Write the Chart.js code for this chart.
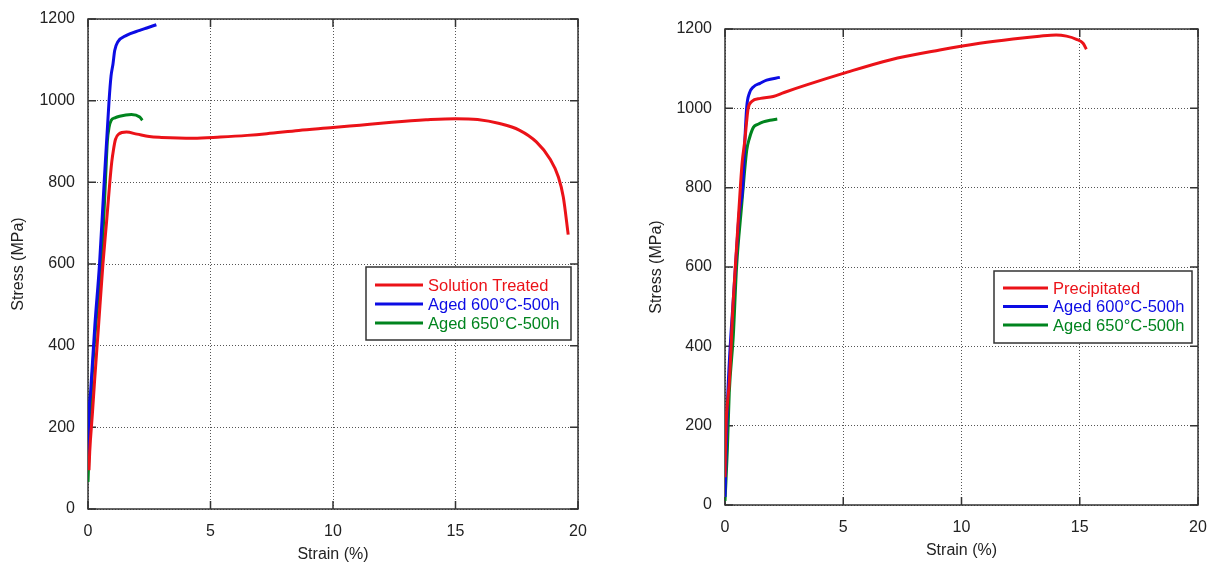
<!DOCTYPE html>
<html>
<head>
<meta charset="utf-8">
<script src="https://cdn.jsdelivr.net/npm/chart.js@4.4.1/dist/chart.umd.min.js"></script>
<style>
body { margin: 0; background: #fff; overflow: hidden; }
#wrap { position: relative; width: 1212px; height: 562px; }
canvas { position: absolute; top: 0; }
#left { left: 0; }
#right { left: 606px; }
</style>
</head>
<body>
<div id="wrap">
<canvas id="left" width="606" height="562"></canvas>
<canvas id="right" width="606" height="562"></canvas>
</div>
<script>
// values: strain in %, stress in MPa

// left panel
var stStrain = [0.04, 0.07, 0.18, 0.27, 0.42, 0.61, 0.76, 0.89, 0.97, 1.04, 1.12, 1.25, 1.57, 2.0, 2.5, 3.0, 4.3, 5.4, 6.5, 7.3, 8.6, 10.0, 11.1, 12.4, 13.8, 15.0, 15.9, 16.8, 17.6, 18.3, 18.85, 19.2, 19.4, 19.6];
var stStress = [95, 140, 234, 315, 440, 600, 705, 800, 850, 880, 905, 918, 923, 918, 912, 910, 908, 911, 915, 919, 927, 934, 940, 947, 953, 956, 954, 944, 928, 899, 858, 813, 764, 672];

var a600LStrain = [0.0, 0.04, 0.11, 0.28, 0.47, 0.66, 0.86, 0.94, 1.02, 1.09, 1.22, 1.57, 2.11, 2.4, 2.79];
var a600LStress = [100, 230, 290, 450, 600, 800, 1000, 1060, 1090, 1123, 1144, 1160, 1172, 1178, 1186];

var a650LStrain = [0.0, 0.14, 0.32, 0.55, 0.71, 0.79, 0.86, 0.95, 1.1, 1.29, 1.77, 2.11, 2.22];
var a650LStress = [66, 290, 450, 600, 800, 900, 935, 952, 958, 962, 966, 960, 952];

// right panel
var prStrain = [0.0, 0.02, 0.05, 0.11, 0.18, 0.35, 0.5, 0.66, 0.73, 0.84, 0.92, 0.98, 1.13, 1.5, 2.04, 2.5, 3.45, 5.0, 6.97, 9.08, 10.77, 12.18, 13.3, 14.0, 14.44, 14.86, 15.14, 15.28];
var prStress = [70, 140, 210, 261, 307, 517, 660, 811, 866, 920, 970, 1000, 1017, 1025, 1030, 1040, 1059, 1088, 1122, 1147, 1164, 1175, 1182, 1185, 1182, 1174, 1164, 1149];

var a600RStrain = [0.0, 0.04, 0.1, 0.2, 0.35, 0.49, 0.6, 0.75, 0.84, 0.92, 1.03, 1.2, 1.48, 1.76, 2.32];
var a600RStress = [20, 120, 250, 380, 517, 643, 735, 800, 920, 1004, 1038, 1054, 1063, 1071, 1078];

var a650RStrain = [0.0, 0.1, 0.18, 0.35, 0.49, 0.7, 0.82, 0.92, 1.03, 1.2, 1.4, 1.62, 1.9, 2.21];
var a650RStress = [10, 140, 283, 425, 601, 752, 836, 895, 924, 952, 960, 966, 970, 973];

var xTicks = [0, 5, 10, 15, 20];
var yTicks = [0, 200, 400, 600, 800, 1000, 1200];

var RED = 'rgb(235,18,24)';
var BLUE = 'rgb(12,12,228)';
var GREEN = 'rgb(0,132,30)';
var FONT = '"Liberation Sans", Arial, sans-serif';

function pts(xs, ys) {
    return xs.map(function (x, i) { return {x: x, y: ys[i]}; });
}

function series(label, color, xs, ys) {
    return {label: label, data: pts(xs, ys), borderColor: color, backgroundColor: color,
        showLine: true, fill: false};
}

// plot box with short inward ticks on all four sides
var framePlugin = {
    id: 'frame',
    beforeDatasetsDraw: function (chart) {
        var a = chart.chartArea, ctx = chart.ctx;
        var sx = chart.scales.x, sy = chart.scales.y;
        ctx.save();
        ctx.strokeStyle = '#333';
        ctx.lineWidth = 1.5;
        ctx.strokeRect(a.left, a.top, a.right - a.left, a.bottom - a.top);
        ctx.beginPath();
        sx.ticks.forEach(function (t) {
            var px = sx.getPixelForValue(t.value);
            ctx.moveTo(px, a.bottom); ctx.lineTo(px, a.bottom - 8);
            ctx.moveTo(px, a.top); ctx.lineTo(px, a.top + 8);
        });
        sy.ticks.forEach(function (t) {
            var py = sy.getPixelForValue(t.value);
            ctx.moveTo(a.left, py); ctx.lineTo(a.left + 8, py);
            ctx.moveTo(a.right, py); ctx.lineTo(a.right - 8, py);
        });
        ctx.stroke();
        ctx.restore();
    }
};

// boxed legend with coloured text, inside the plot
var legendPlugin = {
    id: 'boxLegend',
    afterDraw: function (chart, args, o) {
        var ctx = chart.ctx;
        ctx.save();
        ctx.fillStyle = '#fff';
        ctx.fillRect(o.left, o.top, o.width, o.height);
        ctx.strokeStyle = '#333';
        ctx.lineWidth = 1.5;
        ctx.strokeRect(o.left, o.top, o.width, o.height);
        ctx.font = '16.5px ' + FONT;
        ctx.textBaseline = 'middle';
        chart.data.datasets.forEach(function (ds, i) {
            var y = o.top + o.first + i * o.step;
            ctx.strokeStyle = ds.borderColor;
            ctx.lineWidth = 3;
            ctx.beginPath();
            ctx.moveTo(o.left + o.line0, y);
            ctx.lineTo(o.left + o.line1, y);
            ctx.stroke();
            ctx.fillStyle = ds.borderColor;
            ctx.fillText(ds.label, o.left + o.text, y + 1);
        });
        ctx.restore();
    }
};

function plain(v) { return String(v); }

function makeChart(id, datasets, cfg) {
    return new Chart(document.getElementById(id), {
        type: 'scatter',
        data: {datasets: datasets},
        plugins: [framePlugin, legendPlugin],
        options: {
            responsive: false,
            animation: false,
            events: [],
            layout: {padding: cfg.padding},
            elements: {
                point: {radius: 0},
                line: {borderWidth: 3, cubicInterpolationMode: 'monotone'}
            },
            plugins: {
                legend: {display: false},
                tooltip: {enabled: false},
                boxLegend: cfg.legend
            },
            scales: {
                x: {
                    type: 'linear', min: 0, max: 20,
                    afterBuildTicks: function (s) { s.ticks = xTicks.map(function (v) { return {value: v}; }); },
                    afterFit: function (s) { s.height = cfg.xHeight; s.paddingLeft = 0; s.paddingRight = 0; },
                    grid: {color: '#555', lineWidth: 1, drawTicks: false},
                    border: {display: false, dash: [1, 2]},
                    ticks: {padding: 13, color: '#222', font: {size: 16, family: FONT}, callback: plain},
                    title: {display: true, text: 'Strain (%)', color: '#222',
                        font: {size: 16, family: FONT, lineHeight: 0.8},
                        padding: {top: 0, bottom: cfg.xTitlePad}}
                },
                y: {
                    type: 'linear', min: 0, max: 1200,
                    afterBuildTicks: function (s) { s.ticks = yTicks.map(function (v) { return {value: v}; }); },
                    afterFit: function (s) { s.width = cfg.yWidth; s.paddingTop = 0; s.paddingBottom = 0; },
                    grid: {color: '#555', lineWidth: 1, drawTicks: false},
                    border: {display: false, dash: [1, 2]},
                    ticks: {padding: 13, color: '#222', font: {size: 16, family: FONT}, callback: plain},
                    title: {display: true, text: 'Stress (MPa)', color: '#222',
                        font: {size: 16, family: FONT, lineHeight: 1.2},
                        padding: {top: cfg.yTitlePad, bottom: 0}}
                }
            }
        }
    });
}

makeChart('left', [
    series('Solution Treated', RED, stStrain, stStress),
    series('Aged 600°C-500h', BLUE, a600LStrain, a600LStress),
    series('Aged 650°C-500h', GREEN, a650LStrain, a650LStress)
], {
    padding: {left: 0, right: 28, top: 19, bottom: 0},
    xHeight: 53, yWidth: 88, xTitlePad: 1, yTitlePad: 9,
    legend: {left: 366, top: 267, width: 205, height: 73, first: 18, step: 19, line0: 9, line1: 57, text: 62}
});

makeChart('right', [
    series('Precipitated', RED, prStrain, prStress),
    series('Aged 600°C-500h', BLUE, a600RStrain, a600RStress),
    series('Aged 650°C-500h', GREEN, a650RStrain, a650RStress)
], {
    padding: {left: 0, right: 14, top: 29, bottom: 0},
    xHeight: 57, yWidth: 119, xTitlePad: 5, yTitlePad: 41,
    legend: {left: 388, top: 271, width: 198, height: 72, first: 17, step: 18.5, line0: 9, line1: 54, text: 59}
});
</script>
</body>
</html>
